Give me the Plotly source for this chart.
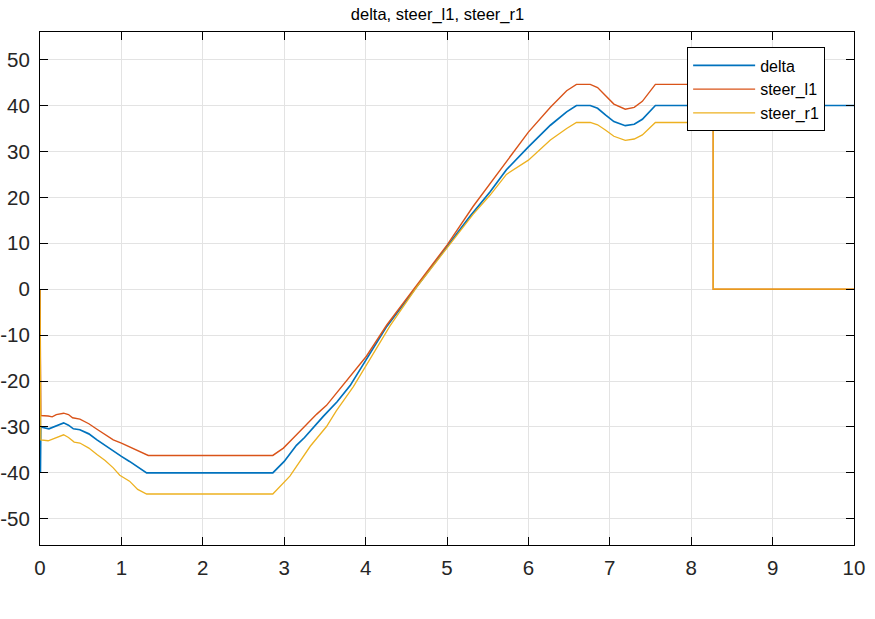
import plotly.graph_objects as go

# ---- data ----
t_delta = [0, 0.005, 0.01, 0.11, 0.2, 0.29, 0.35, 0.41, 0.49, 0.6, 0.7, 0.8, 0.9, 1.0, 1.1, 1.2, 1.31,
           2.86, 3.0, 3.15, 3.25, 3.48, 3.65, 3.81, 4.01, 4.26, 4.63, 5.0, 5.28, 5.53, 5.73, 6.0, 6.27,
           6.47, 6.59, 6.76, 6.85, 6.95, 7.05, 7.19, 7.3, 7.4, 7.5, 7.56, 10.0]
delta = [0, -40, -30, -30.4, -29.8, -29.1, -29.6, -30.4, -30.6, -31.5, -32.8, -34.0, -35.3, -36.4, -37.5, -38.6, -40,
         -40, -37.5, -34.0, -32.3, -27.7, -24.5, -21.0, -15.4, -8.1, 0.6, 9.3, 15.8, 21.2, 26.0, 31.0, 35.7,
         38.6, 40, 40, 39.4, 37.9, 36.5, 35.6, 35.9, 37.0, 38.9, 40, 40]

t_l1 = [0, 0.01, 0.1, 0.15, 0.2, 0.29, 0.35, 0.4, 0.49, 0.6, 0.7, 0.8, 0.9, 1.0, 1.1, 1.2, 1.33,
        2.86, 2.99, 3.1, 3.23, 3.4, 3.52, 3.77, 4.01, 4.26, 4.63, 5.0, 5.32, 5.53, 5.73, 6.0, 6.27,
        6.47, 6.59, 6.76, 6.85, 6.95, 7.05, 7.19, 7.3, 7.4, 7.5, 7.56, 8.27, 8.27, 10.0]
steer_l1 = [0, -27.5, -27.6, -27.8, -27.3, -27.0, -27.3, -28.0, -28.3, -29.3, -30.5, -31.6, -32.8, -33.5, -34.3, -35.2, -36.2,
            -36.2, -34.6, -32.6, -30.2, -27.2, -25.3, -19.9, -14.6, -7.8, 0.8, 9.6, 18.0, 23.0, 28.0, 34.2, 39.6,
            43.2, 44.6, 44.6, 43.9, 42.0, 40.3, 39.2, 39.6, 40.9, 43.3, 44.6, 44.6, 0, 0]

t_r1 = [0, 0.01, 0.1, 0.2, 0.29, 0.35, 0.42, 0.49, 0.6, 0.7, 0.8, 0.9, 0.98, 1.1, 1.2, 1.31,
        2.86, 3.07, 3.32, 3.52, 3.64, 3.85, 4.05, 4.3, 4.63, 5.0, 5.32, 5.53, 5.73, 6.0, 6.27,
        6.47, 6.59, 6.76, 6.85, 6.95, 7.05, 7.19, 7.3, 7.4, 7.5, 7.56, 8.27, 8.27, 10.0]
steer_r1 = [0, -32.8, -33.0, -32.4, -31.7, -32.3, -33.3, -33.5, -34.6, -36.0, -37.3, -38.9, -40.5, -41.8, -43.6, -44.6,
            -44.6, -40.7, -34.2, -29.9, -26.5, -21.2, -15.4, -8.0, 0.5, 9.0, 16.3, 20.5, 25.0, 28.1, 32.5,
            35.0, 36.3, 36.3, 35.8, 34.6, 33.3, 32.4, 32.7, 33.6, 35.2, 36.3, 36.3, 0, 0]

x_ticks = [0, 1, 2, 3, 4, 5, 6, 7, 8, 9, 10]
y_ticks = [-50, -40, -30, -20, -10, 0, 10, 20, 30, 40, 50]
y_ticktext = [str(v) for v in y_ticks]

names = ["delta", "steer_l1", "steer_r1"]
colors = ["#0072BD", "#D95319", "#EDB120"]
widths = [1.7, 1.4, 1.3]

fig = go.Figure()
for tx, ys, nm, c, w in zip([t_delta, t_l1, t_r1], [delta, steer_l1, steer_r1], names, colors, widths):
    fig.add_trace(go.Scatter(x=tx, y=ys, mode="lines", name=nm,
                             line=dict(color=c, width=w)))

font_family = "Liberation Sans, Arial, Helvetica, sans-serif"
axis_common = dict(
    showline=True, linecolor="black", linewidth=1, mirror="ticks",
    ticks="inside", ticklen=8, tickcolor="black", tickwidth=1,
    showgrid=True, gridcolor="#e3e3e3", gridwidth=1,
    zeroline=False, automargin=False,
    tickfont=dict(family=font_family, size=20.5, color="#262626"),
)

fig.update_layout(
    width=875, height=619,
    margin=dict(l=40, r=21, t=31.5, b=73.7),
    paper_bgcolor="white", plot_bgcolor="white",
    title=dict(text="delta, steer_l1, steer_r1", x=0.5, xanchor="center", y=1 - 14 / 619, yanchor="middle",
               font=dict(family=font_family, size=16.5, color="black")),
    xaxis=dict(range=[0, 10], tickvals=x_ticks, ticklabelstandoff=4, **axis_common),
    yaxis=dict(range=[-55.7, 56], tickvals=y_ticks, ticktext=y_ticktext, ticklabelstandoff=5, **axis_common),
    legend=dict(x=0.795, y=0.970, xanchor="left", yanchor="top",
                bgcolor="white", bordercolor="black", borderwidth=1,
                font=dict(family=font_family, size=16, color="black"),
                itemwidth=62, tracegroupgap=0),
    showlegend=True,
)

fig.write_html("out.html")
